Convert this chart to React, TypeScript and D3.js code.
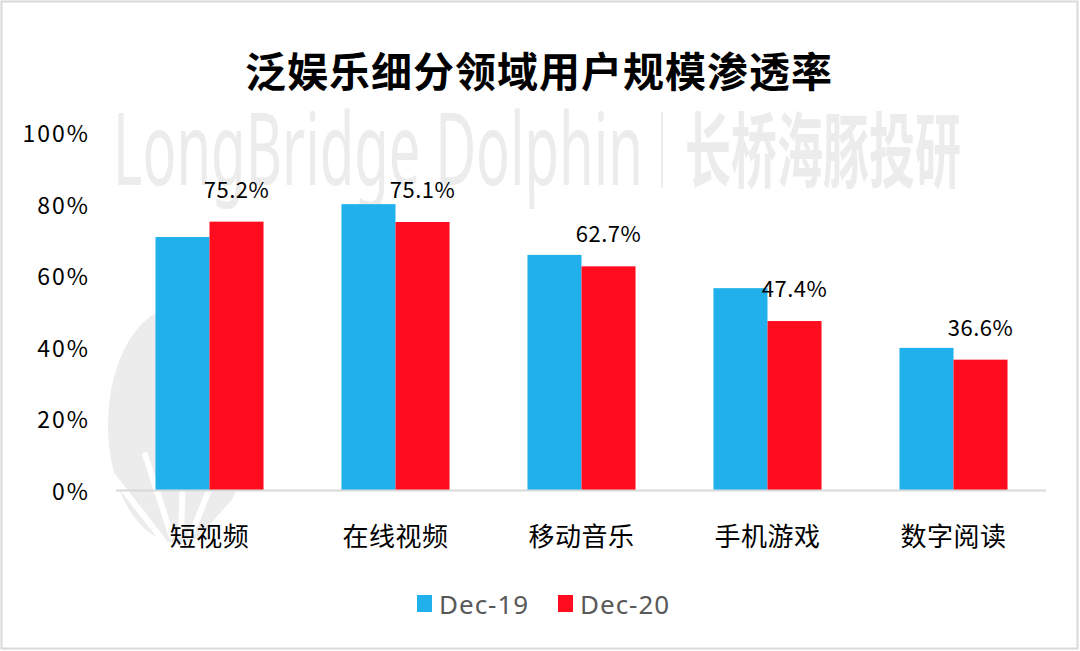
import React from "react";
import * as d3 from "d3";

const title = "泛娱乐细分领域用户规模渗透率";
const categories = ["短视频", "在线视频", "移动音乐", "手机游戏", "数字阅读"];
const seriesNames = ["Dec-19", "Dec-20"];
const dec19 = [0.709, 0.801, 0.659, 0.566, 0.399];
const dec20 = [0.752, 0.751, 0.627, 0.474, 0.366];
const yTicks = [0, 0.2, 0.4, 0.6, 0.8, 1.0];
const seriesColors = ["#20B1EC", "#FF0D1F"];

const W = 1080;
const H = 651;
const FONT = "'Noto Sans CJK SC', 'Noto Sans', sans-serif";

export default function App() {
  const x = d3.scaleBand<string>().domain(categories).range([116.5, 1046.5]).paddingInner(0.419).paddingOuter(0.2095);
  const xs = d3.scaleBand<string>().domain(seriesNames).range([0, x.bandwidth()]).padding(0);
  const y = d3.scaleLinear().domain([0, 1]).range([490.5, 133]);
  const values = [dec19, dec20];
  const fmt = d3.format(".1%");
  const tickFmt = d3.format(".0%");

  const rayAngles = [-58, -38, -18, 2, 22, 42];

  return (
    <svg width={W} height={H} style={{ position: "absolute", left: 0, top: 0, background: "#fff" }} fontFamily={FONT}>
      <rect x={0} y={0} width={W} height={H} fill="#fff" />
      <rect x={1.5} y={1.5} width={W - 4} height={H - 4} fill="none" stroke="#d9d9d9" strokeWidth={2} />

      {/* watermark */}
      <g fill="#ececec">
        <text x={113} y={185} fontFamily="'Noto Sans', sans-serif" fontSize={100} textLength={530} lengthAdjust="spacingAndGlyphs">
          LongBridge Dolphin
        </text>
        <rect x={661} y={112} width={2} height={76} />
        <text x={685} y={181} fontFamily="'Noto Sans CJK SC', sans-serif" fontWeight={700} fontSize={82} textLength={276} lengthAdjust="spacingAndGlyphs">
          长桥海豚投研
        </text>
        <ellipse cx={178} cy={425} rx={70} ry={118} />
      </g>
      <g stroke="#fff" strokeWidth={6}>
        {rayAngles.map((a, i) => {
          const r = (a * Math.PI) / 180;
          const ox = 180, oy = 562;
          return <line key={i} x1={ox + Math.sin(r) * 25} y1={oy - Math.cos(r) * 25} x2={ox + Math.sin(r) * 115} y2={oy - Math.cos(r) * 115} />;
        })}
      </g>

      {/* title */}
      <text x={539} y={87} textAnchor="middle" fontSize={41} fontWeight={700} fill="#000" letterSpacing={1}>
        {title}
      </text>

      {/* y ticks */}
      {yTicks.map((t) => (
        <text key={t} x={90} y={y(t) - 1} textAnchor="end" dominantBaseline="central" fontSize={23} letterSpacing={2} fill="#000">
          {tickFmt(t)}
        </text>
      ))}

      {/* bars */}
      {categories.map((c, i) => (
        <g key={c}>
          {seriesNames.map((s, j) => (
            <rect
              key={s}
              x={(x(c) as number) + (xs(s) as number)}
              y={y(values[j][i])}
              width={xs.bandwidth()}
              height={y(0) - y(values[j][i])}
              fill={seriesColors[j]}
            />
          ))}
          <text
            x={(x(c) as number) + (xs("Dec-20") as number) + xs.bandwidth() / 2}
            y={y(dec20[i]) - 24}
            textAnchor="middle"
            fontSize={22}
            letterSpacing={0.5}
            fill="#000"
          >
            {fmt(dec20[i])}
          </text>
          <text
            x={(x(c) as number) + x.bandwidth() / 2}
            y={546}
            textAnchor="middle"
            fontSize={26}
            letterSpacing={0.5}
            fill="#000"
          >
            {c}
          </text>
        </g>
      ))}

      {/* baseline */}
      <line x1={116} x2={1046} y1={490.5} y2={490.5} stroke="#d9d9d9" strokeWidth={2} />

      {/* legend */}
      {seriesNames.map((s, j) => {
        const lx = j === 0 ? 417 : 558;
        return (
          <g key={s}>
            <rect x={lx} y={595} width={15} height={17} fill={seriesColors[j]} />
            <text x={lx + 22} y={614} fontFamily="'Noto Sans', sans-serif" fontSize={26} letterSpacing={1} fill="#595959">
              {s}
            </text>
          </g>
        );
      })}
    </svg>
  );
}
